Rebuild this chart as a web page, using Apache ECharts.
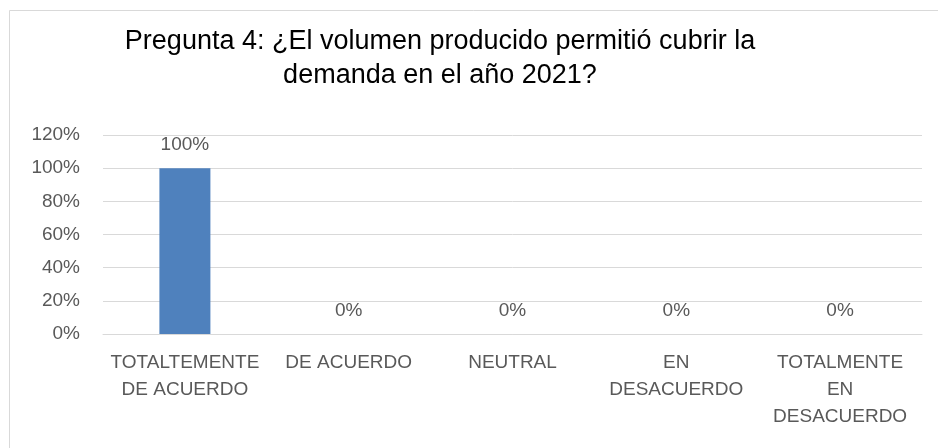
<!DOCTYPE html>
<html>
<head>
<meta charset="utf-8">
<script src="https://cdn.jsdelivr.net/npm/echarts@6/dist/echarts.min.js"></script>
<style>
  html, body { margin: 0; padding: 0; background: #fff; }
  #chart { width: 938px; height: 448px; }
</style>
</head>
<body>
<div id="chart"></div>
<script>
// Survey answers for question 4 and their share of respondents (%)
const categories = [
  'TOTALTEMENTE\nDE ACUERDO',
  'DE ACUERDO',
  'NEUTRAL',
  'EN\nDESACUERDO',
  'TOTALMENTE\nEN\nDESACUERDO'
];
const shares = [100, 0, 0, 0, 0];
const yTicks = { min: 0, max: 120, step: 20 };

const titleLines = [
  'Pregunta 4: ¿El volumen producido permitió cubrir la',
  'demanda en el año 2021?'
];

const FONT = '"Liberation Sans", sans-serif';
const TEXT_GREY = '#595959';

const chart = echarts.init(document.getElementById('chart'), null, { renderer: 'canvas' });

chart.setOption({
  animation: false,
  backgroundColor: '#fff',
  title: {
    text: titleLines.join('\n'),
    left: 435,
    top: 20,
    textAlign: 'center',
    textStyle: {
      fontFamily: FONT,
      fontSize: 27,
      fontWeight: 'normal',
      color: '#000',
      lineHeight: 34
    }
  },
  grid: { left: 103, right: 16, top: 135, bottom: 114, containLabel: false },
  xAxis: {
    type: 'category',
    data: categories,
    axisLine: { show: true, lineStyle: { color: '#d9d9d9', width: 1 } },
    axisTick: { show: false },
    axisLabel: {
      interval: 0,
      margin: 15,
      fontFamily: FONT,
      fontSize: 19,
      lineHeight: 27,
      color: TEXT_GREY,
      align: 'center'
    }
  },
  yAxis: {
    type: 'value',
    min: yTicks.min,
    max: yTicks.max,
    interval: yTicks.step,
    axisLine: { show: false },
    axisTick: { show: false },
    splitLine: { lineStyle: { color: '#d9d9d9', width: 1 } },
    axisLabel: {
      margin: 23,
      fontFamily: FONT,
      fontSize: 19,
      color: TEXT_GREY,
      formatter: v => v + '%'
    }
  },
  series: [{
    type: 'bar',
    data: shares,
    barWidth: 51,
    itemStyle: { color: '#4f81bd' },
    label: {
      show: true,
      position: 'top',
      distance: 14,
      fontFamily: FONT,
      fontSize: 19,
      color: TEXT_GREY,
      formatter: p => p.value + '%'
    }
  }],
  graphic: [
    { type: 'line', shape: { x1: 9.5, y1: 10.5, x2: 938, y2: 10.5 }, style: { stroke: '#d9d9d9', lineWidth: 1 } },
    { type: 'line', shape: { x1: 9.5, y1: 10.5, x2: 9.5, y2: 448 }, style: { stroke: '#d9d9d9', lineWidth: 1 } }
  ]
});
</script>
</body>
</html>
